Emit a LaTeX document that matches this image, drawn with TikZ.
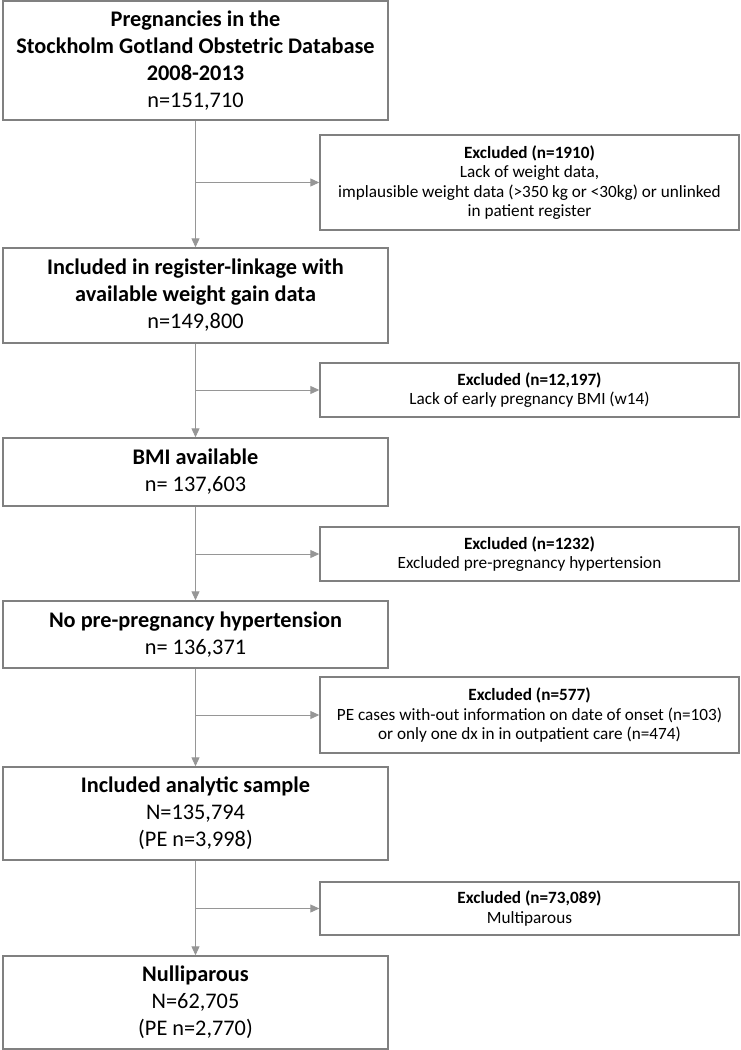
\documentclass[tikz,border=0pt]{standalone}
\usepackage{fontspec}
\setmainfont{Carlito}
\usetikzlibrary{arrows.meta}
\definecolor{boxgray}{RGB}{128,128,128}
\definecolor{linegray}{RGB}{150,150,150}
\tikzset{
  mainbox/.style={draw=boxgray, line width=1.4pt, minimum width=385pt, align=center,
    inner sep=0pt, font=\fontsize{22.3}{27}\selectfont},
  exclbox/.style={draw=boxgray, line width=1.4pt, minimum width=419pt, align=center,
    inner sep=0pt, font=\fontsize{17.2}{19.5}\selectfont},
  flow/.style={draw=linegray, line width=1pt, -{Triangle[length=9pt,width=8pt]}}
}
\begin{document}
\begin{tikzpicture}[x=1pt, y=-1pt]
\useasboundingbox (0,0) rectangle (741,1050);
% main column
\node[mainbox, minimum height=119pt] (preg) at (195.5,60.5)
  {\textbf{Pregnancies in the}\\\textbf{Stockholm Gotland Obstetric Database}\\\textbf{2008-2013}\\n=151,710};
\node[mainbox, minimum height=95pt] (linked) at (195.5,295.5)
  {\textbf{Included in register-linkage with}\\\textbf{available weight gain data}\\n=149,800};
\node[mainbox, minimum height=68pt] (bmi) at (195.5,472)
  {\textbf{BMI available}\\n= 137,603};
\node[mainbox, minimum height=67pt] (nohyp) at (195.5,634.5)
  {\textbf{No pre-pregnancy hypertension}\\n= 136,371};
\node[mainbox, minimum height=93pt] (sample) at (195.5,813.5)
  {\textbf{Included analytic sample}\\N=135,794\\(PE n=3,998)};
\node[mainbox, minimum height=93pt] (nullip) at (195.5,1002.5)
  {\textbf{Nulliparous}\\N=62,705\\(PE n=2,770)};
% exclusions
\node[exclbox, minimum height=95pt] (exA) at (529.5,182.5)
  {\textbf{Excluded (n=1910)}\\Lack of weight data,\\implausible weight data (>350 kg or <30kg) or unlinked\\in patient register};
\node[exclbox, minimum height=54pt] (exB) at (529.5,390)
  {\textbf{Excluded (n=12,197)}\\Lack of early pregnancy BMI (w14)};
\node[exclbox, minimum height=54pt] (exC) at (529.5,554)
  {\textbf{Excluded (n=1232)}\\Excluded pre-pregnancy hypertension};
\node[exclbox, minimum height=76pt] (exD) at (529.5,715)
  {\textbf{Excluded (n=577)}\\PE cases with-out information on date of onset (n=103)\\or only one dx in in outpatient care (n=474)};
\node[exclbox, minimum height=53pt] (exE) at (529.5,908.5)
  {\textbf{Excluded (n=73,089)}\\Multiparous};
% connectors
\draw[flow] (preg.south) -- (linked.north);
\draw[flow] (linked.south) -- (bmi.north);
\draw[flow] (bmi.south) -- (nohyp.north);
\draw[flow] (nohyp.south) -- (sample.north);
\draw[flow] (sample.south) -- (nullip.north);
\draw[flow] (preg.south |- exA.west) -- (exA.west);
\draw[flow] (linked.south |- exB.west) -- (exB.west);
\draw[flow] (bmi.south |- exC.west) -- (exC.west);
\draw[flow] (nohyp.south |- exD.west) -- (exD.west);
\draw[flow] (sample.south |- exE.west) -- (exE.west);
\end{tikzpicture}
\end{document}
